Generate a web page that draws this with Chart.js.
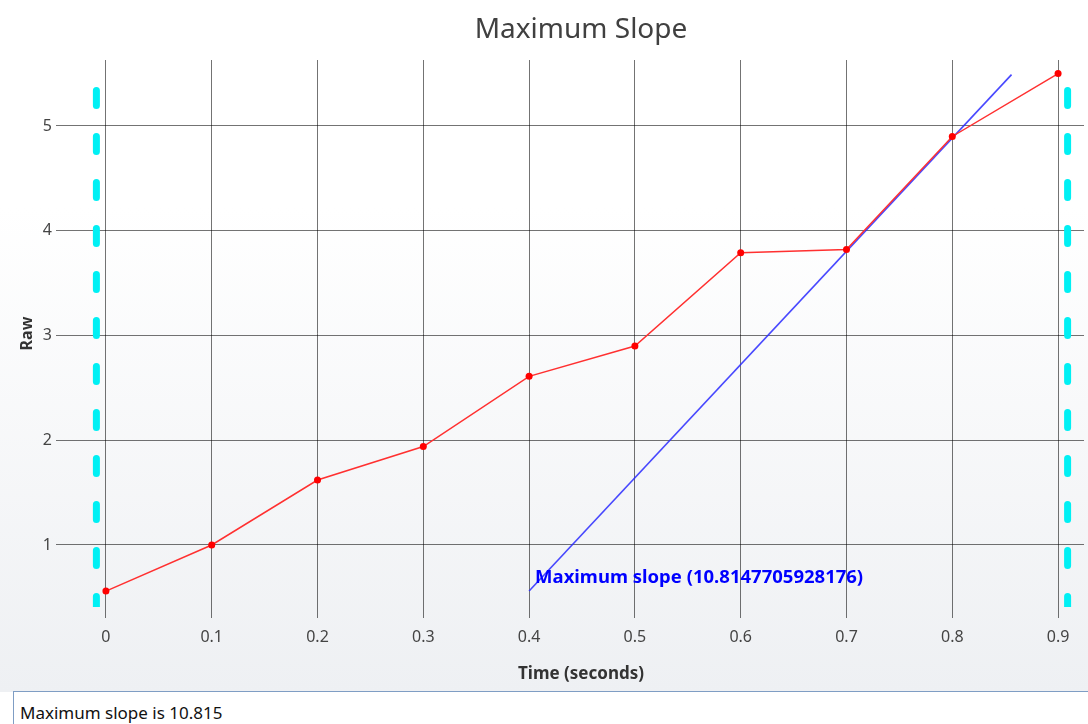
<!DOCTYPE html>
<html>
<head>
<meta charset="utf-8">
<script src="https://cdn.jsdelivr.net/npm/chart.js@4/dist/chart.umd.min.js"></script>
<style>
    html, body { margin: 0; padding: 0; background: #ffffff; overflow: hidden; }
    #wrap {
        position: absolute; left: 0; top: 0; width: 1088px; height: 692px;
        background: linear-gradient(to bottom, #ffffff 0%, #ffffff 30%, #eef0f3 100%);
    }
    #status {
        position: absolute; left: 13px; top: 691px; width: 1090px; height: 40px;
        border: 1px solid #7f9dc4; background: #ffffff; box-sizing: border-box;
        font-family: "Noto Sans", sans-serif; font-size: 17px; color: #111;
        padding: 9px 0 0 6px;
    }
</style>
</head>
<body>
<div id="wrap"><canvas id="slopeChart" width="1088" height="692"></canvas></div>
<div id="status">Maximum slope is 10.815</div>

<script>
// measured samples
const times = [0, 0.1, 0.2, 0.3, 0.4, 0.5, 0.6, 0.7, 0.8, 0.9];
const rawValues = [0.56, 1.0, 1.62, 1.94, 2.61, 2.90, 3.79, 3.82, 4.90, 5.50];

// max slope line (start / end)
const slopeTimes = [0.4, 0.856];
const slopeValues = [0.56, 5.49];
const slopeLabel = "Maximum slope (10.8147705928176)";

// cyan boundary markers
const markerTimes = [-0.009, 0.909];
const markerRange = [5.34, 0.35];

const xTicks = [0, 0.1, 0.2, 0.3, 0.4, 0.5, 0.6, 0.7, 0.8, 0.9];
const yTicks = [1, 2, 3, 4, 5];

const chartTitle = "Maximum Slope";
const xTitle = "Time (seconds)";

const FONT = "'Noto Sans', sans-serif";

function toPoints(xs, ys) {
    return xs.map((x, i) => ({ x: x, y: ys[i] }));
}

const markerSets = markerTimes.map(t => ({
    data: [{ x: t, y: markerRange[0] }, { x: t, y: markerRange[1] }],
    borderColor: "#00f0f4",
    borderWidth: 7,
    borderDash: [15, 31],
    borderCapStyle: "round",
    pointRadius: 0,
    showLine: true,
    fill: false
}));

// label next to the max slope line + titles (the original plot runs past the right edge,
// so the titles sit a little right of the visible centre)
const extrasPlugin = {
    id: "extras",
    afterDatasetsDraw(chart) {
        const ctx = chart.ctx;
        const xs = chart.scales.x;
        const ys = chart.scales.y;
        const px = xs.getPixelForValue(slopeTimes[0]) + 6;
        const py = ys.getPixelForValue(slopeValues[0]) - 13;
        ctx.save();
        ctx.font = "bold 18.5px " + FONT;
        ctx.fillStyle = "#0000ff";
        ctx.textBaseline = "middle";
        ctx.textAlign = "left";
        ctx.fillText(slopeLabel, px, py);

        const area = chart.chartArea;
        const cx = (area.left + area.right) / 2 + 9;
        ctx.textAlign = "center";
        ctx.font = "28px " + FONT;
        ctx.fillStyle = "#404040";
        ctx.fillText(chartTitle, cx, 30);

        ctx.font = "bold 17px " + FONT;
        ctx.fillStyle = "#333";
        ctx.fillText(xTitle, cx, 674);
        ctx.restore();
    }
};

const ctx = document.getElementById("slopeChart");

new Chart(ctx, {
    type: "scatter",
    data: {
        datasets: [
            {
                data: toPoints(times, rawValues),
                borderColor: "#ff3030",
                backgroundColor: "#ff0000",
                borderWidth: 1.5,
                pointRadius: 3.5,
                pointBorderWidth: 0,
                showLine: true,
                fill: false
            },
            {
                data: toPoints(slopeTimes, slopeValues),
                borderColor: "rgba(40,40,255,0.85)",
                borderWidth: 1.6,
                pointRadius: 0,
                showLine: true,
                fill: false
            },
            ...markerSets
        ]
    },
    options: {
        responsive: false,
        animation: false,
        layout: { padding: { top: 60, left: 0, right: 0, bottom: 0 } },
        plugins: {
            legend: { display: false },
            tooltip: { enabled: false },
            title: { display: false }
        },
        scales: {
            x: {
                type: "linear",
                min: -0.0434,
                max: 0.9245,
                afterBuildTicks: s => { s.ticks = xTicks.map(v => ({ value: v })); },
                afterFit: s => {
                    s.height = 85;
                    s.paddingLeft = 0;
                    s.paddingRight = 0;
                },
                ticks: {
                    color: "#444",
                    font: { family: FONT, size: 16 },
                    padding: 10,
                    callback: v => String(v)
                },
                grid: { color: "rgba(0,0,0,0.55)", tickLength: 11, lineWidth: 1 },
                border: { display: false },
                title: { display: false }
            },
            y: {
                type: "linear",
                min: 0.408,
                max: 5.63,
                afterBuildTicks: s => { s.ticks = yTicks.map(v => ({ value: v })); },
                afterFit: s => {
                    s.width = 60;
                    s.paddingTop = 0;
                    s.paddingBottom = 0;
                },
                ticks: {
                    color: "#444",
                    font: { family: FONT, size: 16 },
                    padding: 4
                },
                grid: { color: "rgba(0,0,0,0.55)", tickLength: 4, lineWidth: 1 },
                border: { display: false },
                title: {
                    display: true,
                    text: "Raw",
                    color: "#333",
                    font: { family: FONT, size: 16, weight: "bold" },
                    padding: { top: 18, bottom: 0 }
                }
            }
        }
    },
    plugins: [extrasPlugin]
});
</script>
</body>
</html>
